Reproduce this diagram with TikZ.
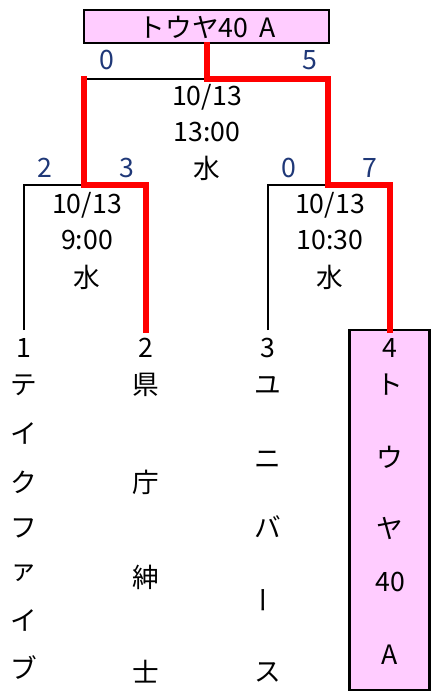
\documentclass[tikz,border=0pt]{standalone}
\usepackage{fontspec}
\setmainfont{Noto Sans CJK JP}
\definecolor{boxpink}{RGB}{255,204,255}
\definecolor{scoreblue}{RGB}{31,56,120}
\definecolor{winred}{RGB}{255,0,0}
\begin{document}
\begin{tikzpicture}[x=0.75pt,y=-0.75pt,
  winline/.style={winred,line width=3.9pt,line join=miter,line cap=rect},
  loseline/.style={black,line width=2pt,line join=miter},
  pinkbox/.style={draw=black,line width=2pt,fill=boxpink,inner sep=0pt},
  txt/.style={font=\fontsize{20}{22}\selectfont,inner sep=0pt,anchor=center},
  score/.style={txt,text=scoreblue},
  info/.style={txt},
]
\useasboundingbox (0,0) rectangle (430,692);

% boxes
\node[pinkbox,minimum width=183.75pt,minimum height=24.75pt] (champ) at (206.5,26.5) {};
\node[txt] (champtext) at (207,27) {トウヤ40\hspace{0.4em}A};
\node[pinkbox,minimum width=60pt,minimum height=270pt] (box4) at (389.5,510) {};

% bracket joints
\coordinate (f1) at (207,79);
\coordinate (fL) at (84,79);
\coordinate (fR) at (328,79);
\coordinate (sL) at (84,185);
\coordinate (sL1) at (24,185);
\coordinate (sL2) at (146,185);
\coordinate (sR) at (328,185);
\coordinate (sR3) at (268,185);
\coordinate (sR4) at (390,185);
\coordinate (p1) at (24,330);
\coordinate (p2) at (146,330);
\coordinate (p3) at (268,330);
\coordinate (p4) at (390,330);

% losing lines
\draw[loseline] (fL) -- (f1);
\draw[loseline] (p1) -- (sL1) -- (sL);
\draw[loseline] (p3) -- (sR3) -- (sR);
% winning lines
\draw[winline] (champ.south -| f1) -- (f1) -- (fR) -- (sR) -- (sR4) -- (p4);
\draw[winline] (fL) -- (sL) -- (sL2) -- (p2);

% scores
\node[score] (sc1) at (107,60) {0};
\node[score] (sc2) at (310,60) {5};
\node[score] (sc3) at (45,168) {2};
\node[score] (sc4) at (127,168) {3};
\node[score] (sc5) at (289,168) {0};
\node[score] (sc6) at (370,168) {7};

% match info
\node[info] (fdate) at (207,97) {10/13};
\node[info] (ftime) at (207,132) {13:00};
\node[info] (fcourt) at (207,168) {水};
\node[info] (ldate) at (87,205) {10/13};
\node[info] (ltime) at (87,240) {9:00};
\node[info] (lcourt) at (87,277) {水};
\node[info] (rdate) at (330,205) {10/13};
\node[info] (rtime) at (330,240) {10:30};
\node[info] (rcourt) at (330,277) {水};

% seed numbers
\node[info] (n1) at (24,348) {1};
\node[info] (n2) at (146,348) {2};
\node[info] (n3) at (268,348) {3};
\node[info] (n4) at (390,348) {4};

% team names
\foreach \c/\y [count=\i] in {テ/385,イ/433,ク/482,フ/528,ァ/573,イ/620,ブ/668}
  \node[info] (ta\i) at (24,\y) {\c};
\foreach \c/\y [count=\i] in {県/385,庁/482,紳/577,士/672}
  \node[info] (tb\i) at (146,\y) {\c};
\node[info] (tc1) at (268,385) {ユ};
\node[info] (tc2) at (268,460) {ニ};
\node[info] (tc3) at (268,527) {バ};
\node[info,rotate=90] (tc4) at (268,600) {ー};
\node[info] (tc5) at (268,672) {ス};
\foreach \c/\y [count=\i] in {ト/385,ウ/457,ヤ/528,40/582,A/655}
  \node[info] (td\i) at (390,\y) {\c};
\end{tikzpicture}
\end{document}
